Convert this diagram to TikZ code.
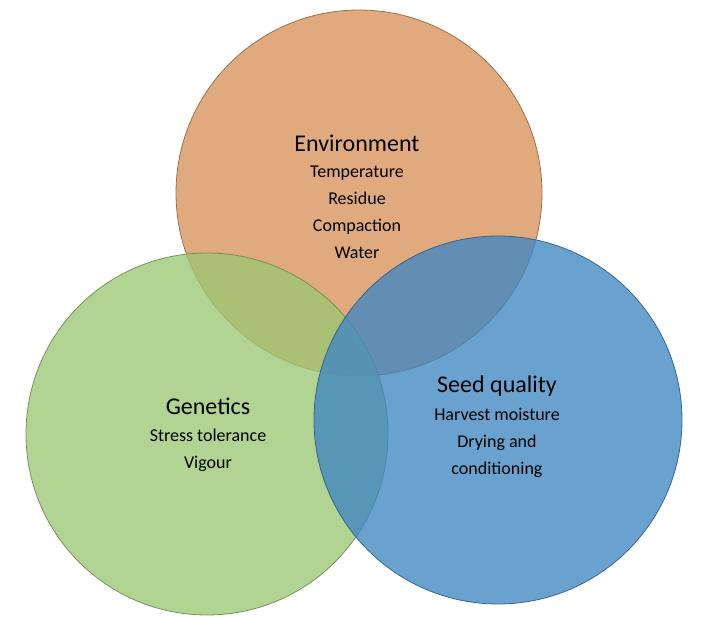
\documentclass[tikz,border=0pt]{standalone}
\usepackage{fontspec}
\setmainfont{Carlito}
\begin{document}
\begin{tikzpicture}[x=0.75pt,y=-0.75pt,
  circ/.style={fill opacity=0.78,draw opacity=0.9,line width=0.6pt},
  ttl/.style={font=\fontsize{18}{20}\selectfont},
  txt/.style={font=\fontsize{13.5}{20.3}\selectfont,align=center}]
\useasboundingbox (0,0) rectangle (701,632);
\definecolor{cor}{HTML}{D8925A}
\definecolor{cgr}{HTML}{9CC873}
\definecolor{cbl}{HTML}{3F86C2}
\path[circ,fill=cor,draw=cor!70!black] (359,193) circle (183) coordinate (env);
\path[circ,fill=cgr,draw=cgr!70!black] (207,434) circle (181) coordinate (gen);
\path[circ,fill=cbl,draw=cbl!70!black] (498,420) circle (184) coordinate (seed);
\node[ttl] (t1) at (357,143) {Environment};
\node[txt,anchor=north] (b1) at (357,161) {Temperature\\Residue\\Compaction\\Water};
\node[ttl] (t2) at (208,406) {Genetics};
\node[txt,anchor=north] (b2) at (208,424) {Stress tolerance\\Vigour};
\node[ttl] (t3) at (497,386) {Seed quality};
\node[txt,anchor=north] (b3) at (497,403) {Harvest moisture\\Drying and\\conditioning};
\end{tikzpicture}
\end{document}
